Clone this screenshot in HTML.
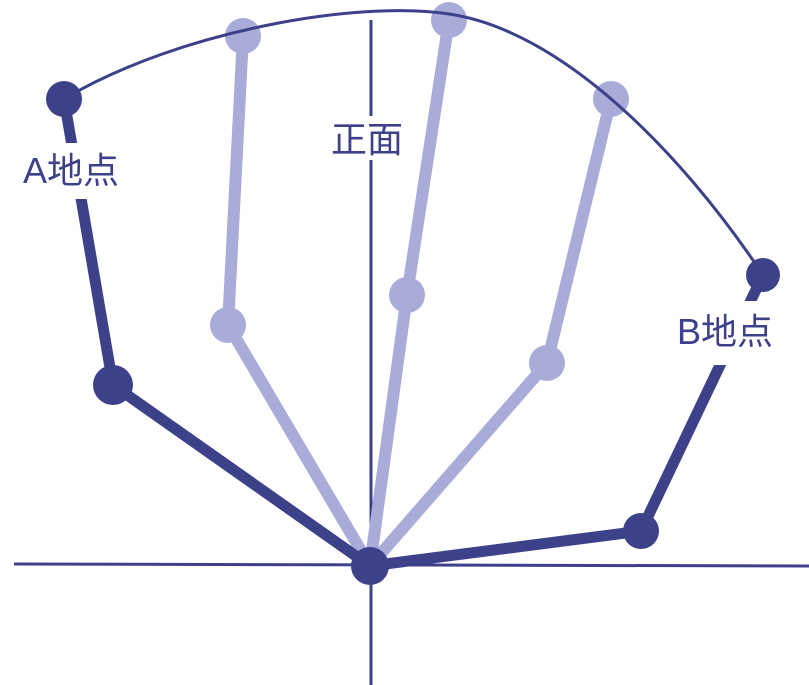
<!DOCTYPE html>
<html><head><meta charset="utf-8"><style>
html,body{margin:0;padding:0;background:#fff;}
svg{display:block;}
text{font-family:"Liberation Sans","Noto Sans CJK JP",sans-serif;font-size:36px;fill:#3d418a;}
</style></head><body>
<svg width="809" height="685" viewBox="0 0 809 685" xmlns="http://www.w3.org/2000/svg">
<g stroke="#3d418a" stroke-width="3" fill="none">
<line x1="14" y1="564" x2="809" y2="566"/>
<line x1="371" y1="20" x2="371" y2="685"/>
</g>
<g stroke="#a9acd8" stroke-width="12" fill="none" stroke-linejoin="round">
<polyline points="370,566 228,325 243,36"/>
<polyline points="370,566 407,295 449,20"/>
<polyline points="370,566 547,363 611,99"/>
</g>
<g fill="#a9acd8">
<circle cx="228" cy="325" r="18"/><circle cx="243" cy="36" r="18"/>
<circle cx="407" cy="295" r="18"/><circle cx="449" cy="20" r="18"/>
<circle cx="547" cy="363" r="18"/><circle cx="611" cy="99" r="18"/>
</g>
<path d="M64,99 C180,30 360,0 449,14 C560,30 680,150 763,275" stroke="#3d418a" stroke-width="3" fill="none"/>
<g stroke="#3d418a" stroke-width="11" fill="none" stroke-linejoin="round">
<polyline points="370,566 113,385 64,99"/>
<polyline points="370,566 641,531 763,275"/>
</g>
<g fill="#3d418a">
<circle cx="370" cy="566" r="19"/>
<circle cx="113" cy="385" r="20"/>
<circle cx="64" cy="99" r="18"/>
<circle cx="641" cy="531" r="18"/>
<circle cx="763" cy="275" r="17"/>
</g>
<rect x="20" y="143" width="110" height="56" fill="#fff"/>
<text x="23" y="183">A地点</text>
<rect x="674" y="301" width="110" height="64" fill="#fff"/>
<text x="677" y="344">B地点</text>
<rect x="326" y="116" width="84" height="44" fill="#fff"/>
<text x="331" y="152">正面</text>
</svg>
</body></html>
